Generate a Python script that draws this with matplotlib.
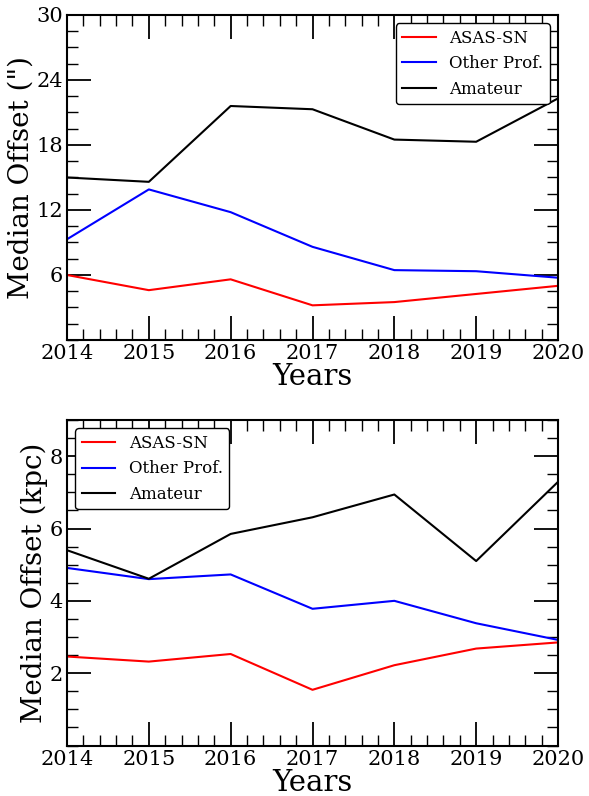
import matplotlib
matplotlib.use('Agg')
import matplotlib.pyplot as plt
from matplotlib.ticker import MultipleLocator

plt.rcParams['font.family'] = 'DejaVu Serif'

years = [2014, 2015, 2016, 2017, 2018, 2019, 2020]

# median offset in arcsec
asassn_arcsec = [6.0, 4.6, 5.6, 3.2, 3.5, 4.25, 5.0]
other_arcsec = [9.3, 13.9, 11.8, 8.6, 6.45, 6.35, 5.75]
amateur_arcsec = [15.0, 14.6, 21.6, 21.3, 18.5, 18.3, 22.3]

# median offset in kpc
asassn_kpc = [2.46, 2.32, 2.53, 1.54, 2.22, 2.68, 2.85]
other_kpc = [4.91, 4.60, 4.73, 3.78, 4.0, 3.38, 2.92]
amateur_kpc = [5.40, 4.61, 5.85, 6.31, 6.94, 5.10, 7.29]

labels = ['ASAS-SN', 'Other Prof.', 'Amateur']
colors = ['red', 'blue', 'black']

fig = plt.figure(figsize=(5.89, 7.96), dpi=100)
ax1 = fig.add_axes([67/589, 1 - 340/796, 491/589, 325/796])
ax2 = fig.add_axes([67/589, 1 - 745.5/796, 491/589, 325.5/796])


def style(ax):
    ax.xaxis.set_minor_locator(MultipleLocator(0.2))
    ax.tick_params(which='both', direction='in', top=True, right=True, labelsize=15)
    ax.tick_params(which='major', length=17, width=1.3, pad=3)
    ax.tick_params(which='minor', length=8, width=1.0)
    for s in ax.spines.values():
        s.set_linewidth(1.5)
    ax.set_xlim(2014, 2020)
    ax.set_xticks(years)
    ax.set_xlabel('Years', fontsize=21, labelpad=0)


for ys, lab, c in zip([asassn_arcsec, other_arcsec, amateur_arcsec], labels, colors):
    ax1.plot(years, ys, color=c, lw=1.5, label=lab)
style(ax1)
ax1.set_ylim(0, 30)
ax1.set_yticks([6, 12, 18, 24, 30])
ax1.yaxis.set_minor_locator(MultipleLocator(1.5))
ax1.set_ylabel('Median Offset (")', fontsize=20, labelpad=1)
ax1.legend(loc='upper right', fontsize=12, framealpha=1, edgecolor='black',
           borderaxespad=0.5)

for ys, lab, c in zip([asassn_kpc, other_kpc, amateur_kpc], labels, colors):
    ax2.plot(years, ys, color=c, lw=1.5, label=lab)
style(ax2)
ax2.set_ylim(0, 9)
ax2.set_yticks([2, 4, 6, 8])
ax2.yaxis.set_minor_locator(MultipleLocator(0.5))
ax2.set_ylabel('Median Offset (kpc)', fontsize=20, labelpad=1)
ax2.legend(loc='upper left', fontsize=12, framealpha=1, edgecolor='black',
           borderaxespad=0.5)

fig.savefig('out.png', dpi=100)
